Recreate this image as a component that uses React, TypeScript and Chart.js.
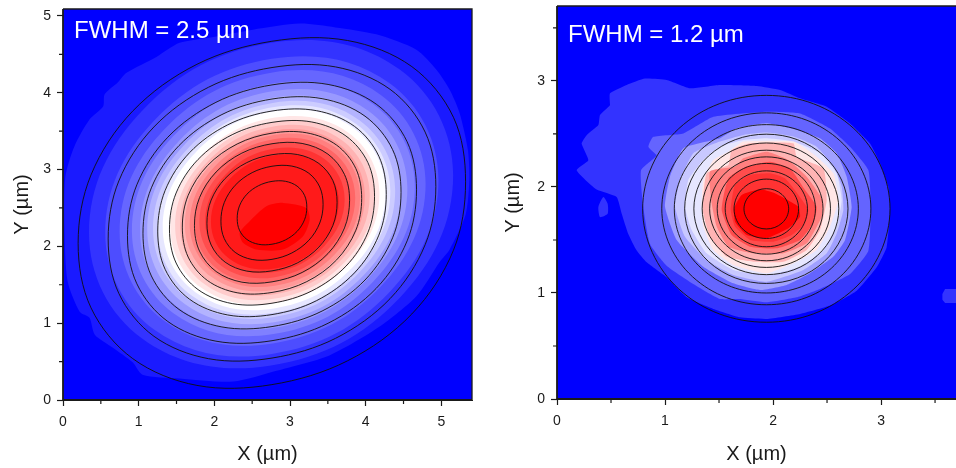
import React, { useEffect, useRef } from "react";
import Chart from "chart.js/auto";

type P = number[][];

const FONT = '"Liberation Sans", Arial, sans-serif';
const TICK_COLOR = "#1a1a1a";

const leftMinorX = [0.5, 1.5, 2.5, 3.5, 4.5];
const leftMinorY = [0.5, 1.5, 2.5, 3.5, 4.5];
const rightMinorX = [0.5, 1.5, 2.5, 3.5];
const rightMinorY = [0.5, 1.5, 2.5, 3.5];

const leftColors = ["#1a1aff", "#3333ff", "#4d4dff", "#6666ff", "#8080ff", "#9999ff", "#b3b3ff", "#ccccff", "#e6e6ff", "#ffffff", "#ffe6e6", "#ffcccc", "#ffb3b3", "#ff9999", "#ff8080", "#ff6666", "#ff4d4d", "#ff3333", "#ff1a1a", "#ff0000"];

const leftBandOuter: P = [[0.03,2.9],[0.15,3.3],[0.35,3.65],[0.53,3.82],[0.55,3.98],[0.72,4.13],[0.84,4.26],[1.24,4.47],[1.54,4.65],[1.95,4.72],[2.51,4.82],[3.13,4.9],[3.6,4.85],[4.14,4.76],[4.67,4.56],[4.935,4.3],[5.11,4.04],[5.24,3.74],[5.35,3.26],[5.37,2.87],[5.32,2.41],[5.11,1.96],[4.98,1.8],[4.67,1.35],[4.185,0.956],[3.52,0.58],[2.82,0.38],[2.25,0.24],[1.54,0.28],[1.05,0.33],[0.92,0.49],[0.66,0.68],[0.42,0.85],[0.35,1.07],[0.22,1.15],[0.06,1.55],[0.02,2.2]];

const leftBands: P[] = [
  [[5.156,2.928],[4.451,4.302],[2.75,4.65],[1.049,3.768],[0.344,2.172],[1.049,0.798],[2.75,0.45],[4.451,1.332]],
  [[4.962,2.866],[4.317,4.123],[2.76,4.441],[1.203,3.635],[0.558,2.174],[1.203,0.917],[2.76,0.599],[4.317,1.405]],
  [[4.792,2.817],[4.2,3.972],[2.77,4.264],[1.34,3.524],[0.748,2.183],[1.34,1.028],[2.77,0.736],[4.2,1.476]],
  [[4.649,2.783],[4.101,3.85],[2.78,4.121],[1.459,3.436],[0.911,2.197],[1.459,1.13],[2.78,0.859],[4.101,1.544]],
  [[4.551,2.757],[4.034,3.766],[2.785,4.021],[1.536,3.374],[1.019,2.203],[1.536,1.194],[2.785,0.939],[4.034,1.586]],
  [[4.467,2.738],[3.976,3.696],[2.79,3.938],[1.604,3.324],[1.113,2.212],[1.604,1.254],[2.79,1.012],[3.976,1.626]],
  [[4.39,2.726],[3.921,3.64],[2.79,3.871],[1.659,3.285],[1.19,2.224],[1.659,1.31],[2.79,1.079],[3.921,1.665]],
  [[4.326,2.716],[3.876,3.593],[2.79,3.815],[1.704,3.253],[1.254,2.234],[1.704,1.357],[2.79,1.135],[3.876,1.697]],
  [[4.262,2.706],[3.831,3.546],[2.79,3.759],[1.749,3.22],[1.318,2.244],[1.749,1.404],[2.79,1.191],[3.831,1.73]],
  [[4.182,2.687],[3.777,3.477],[2.8,3.676],[1.823,3.17],[1.418,2.253],[1.823,1.463],[2.8,1.264],[3.777,1.77]],
  [[4.118,2.677],[3.732,3.43],[2.8,3.62],[1.868,3.137],[1.482,2.263],[1.868,1.51],[2.8,1.32],[3.732,1.803]],
  [[4.054,2.667],[3.687,3.383],[2.8,3.564],[1.913,3.105],[1.546,2.273],[1.913,1.557],[2.8,1.376],[3.687,1.835]],
  [[3.99,2.657],[3.641,3.337],[2.8,3.509],[1.959,3.073],[1.61,2.283],[1.959,1.603],[2.8,1.431],[3.641,1.867]],
  [[3.926,2.647],[3.596,3.29],[2.8,3.453],[2.004,3.04],[1.674,2.293],[2.004,1.65],[2.8,1.487],[3.596,1.9]],
  [[3.862,2.637],[3.551,3.243],[2.8,3.397],[2.049,3.008],[1.738,2.303],[2.049,1.697],[2.8,1.543],[3.551,1.932]],
  [[3.798,2.627],[3.506,3.197],[2.8,3.341],[2.094,2.975],[1.802,2.313],[2.094,1.743],[2.8,1.599],[3.506,1.965]],
  [[3.722,2.615],[3.452,3.141],[2.8,3.274],[2.148,2.937],[1.878,2.325],[2.148,1.799],[2.8,1.666],[3.452,2.003]],
  [[3.645,2.583],[3.397,3.065],[2.8,3.187],[2.203,2.878],[1.955,2.317],[2.203,1.835],[2.8,1.713],[3.397,2.022]],
  [[2.335,2.176],[2.467,2.327],[2.688,2.522],[2.907,2.566],[3.216,2.501],[3.26,2.349],[3.172,2.131],[2.907,1.958],[2.556,1.958],[2.379,2.046]],
];

const leftContours: P[] = [
  [[5.32,2.84],[5.16,3.68],[4.61,4.34],[3.76,4.68],[2.76,4.67],[1.77,4.37],[0.92,3.76],[0.37,2.93],[0.2,2.04],[0.37,1.2],[0.92,0.54],[1.77,0.19],[2.76,0.2],[3.76,0.51],[4.61,1.12],[5.16,1.95]],
  [[4.927,2.777],[4.786,3.487],[4.323,4.044],[3.602,4.336],[2.762,4.328],[1.922,4.071],[1.201,3.554],[0.738,2.852],[0.597,2.097],[0.738,1.387],[1.201,0.83],[1.922,0.538],[2.762,0.546],[3.602,0.803],[4.323,1.32],[4.786,2.022]],
  [[4.672,2.736],[4.548,3.361],[4.139,3.852],[3.503,4.108],[2.762,4.102],[2.021,3.875],[1.385,3.421],[0.976,2.802],[0.852,2.138],[0.976,1.513],[1.385,1.022],[2.021,0.766],[2.762,0.772],[3.503,0.999],[4.139,1.453],[4.548,2.072]],
  [[4.467,2.703],[4.356,3.259],[3.991,3.695],[3.424,3.923],[2.762,3.918],[2.1,3.716],[1.533,3.312],[1.168,2.762],[1.057,2.171],[1.168,1.615],[1.533,1.179],[2.1,0.951],[2.762,0.956],[3.424,1.158],[3.991,1.562],[4.356,2.112]],
  [[4.272,2.675],[4.174,3.173],[3.851,3.563],[3.348,3.767],[2.762,3.762],[2.176,3.582],[1.673,3.22],[1.35,2.728],[1.252,2.199],[1.35,1.701],[1.673,1.311],[2.176,1.107],[2.762,1.112],[3.348,1.292],[3.851,1.654],[4.174,2.146]],
  [[4.117,2.649],[4.029,3.091],[3.739,3.437],[3.288,3.619],[2.762,3.614],[2.236,3.454],[1.785,3.132],[1.495,2.695],[1.407,2.225],[1.495,1.783],[1.785,1.437],[2.236,1.255],[2.762,1.26],[3.288,1.42],[3.739,1.742],[4.029,2.179]],
  [[3.947,2.623],[3.87,3.013],[3.616,3.318],[3.222,3.478],[2.762,3.474],[2.302,3.333],[1.908,3.05],[1.654,2.664],[1.577,2.251],[1.654,1.861],[1.908,1.556],[2.302,1.396],[2.762,1.4],[3.222,1.541],[3.616,1.824],[3.87,2.21]],
  [[3.787,2.599],[3.72,2.936],[3.501,3.201],[3.16,3.34],[2.762,3.336],[2.364,3.214],[2.023,2.968],[1.804,2.634],[1.737,2.275],[1.804,1.938],[2.023,1.673],[2.364,1.534],[2.762,1.538],[3.16,1.66],[3.501,1.906],[3.72,2.24]],
  [[3.622,2.573],[3.566,2.857],[3.382,3.079],[3.096,3.196],[2.762,3.193],[2.428,3.09],[2.142,2.883],[1.958,2.603],[1.902,2.301],[1.958,2.017],[2.142,1.795],[2.428,1.678],[2.762,1.681],[3.096,1.784],[3.382,1.991],[3.566,2.271]],
  [[3.437,2.546],[3.393,2.773],[3.249,2.952],[3.024,3.045],[2.762,3.043],[2.5,2.96],[2.275,2.795],[2.131,2.57],[2.087,2.328],[2.131,2.101],[2.275,1.922],[2.5,1.829],[2.762,1.831],[3.024,1.914],[3.249,2.079],[3.393,2.304]],
  [[3.222,2.51],[3.192,2.664],[3.094,2.784],[2.94,2.847],[2.762,2.846],[2.584,2.79],[2.43,2.679],[2.332,2.527],[2.302,2.364],[2.332,2.21],[2.43,2.09],[2.584,2.027],[2.762,2.028],[2.94,2.084],[3.094,2.195],[3.192,2.347]],
];

const rightColors = ["#3333ff", "#6464ff", "#a0a0ff", "#c8c8ff", "#e6e6ff", "#ffe6e6", "#ffb4b4", "#ff8080", "#ff4d4d", "#ff3333", "#ff0000"];

const rightBands: P[] = [
  [[0.491,2.883],[0.645,2.962],[0.815,3.022],[1.015,3.009],[1.231,2.931],[1.509,2.962],[1.849,2.953],[2.065,2.915],[2.25,2.836],[2.497,2.757],[2.713,2.599],[2.898,2.41],[2.991,2.221],[3.068,2.0],[3.083,1.795],[3.052,1.431],[2.96,1.242],[2.775,1.022],[2.528,0.881],[2.25,0.802],[1.941,0.755],[1.694,0.77],[1.448,0.849],[1.201,0.959],[1.015,1.148],[0.83,1.289],[0.738,1.4],[0.66,1.557],[0.599,1.748],[0.552,1.905],[0.367,1.975],[0.182,2.158],[0.29,2.252],[0.228,2.41],[0.275,2.489],[0.383,2.584],[0.398,2.678],[0.491,2.773]],
  [[0.846,2.379],[0.892,2.473],[1.17,2.505],[1.448,2.662],[1.941,2.71],[2.25,2.694],[2.528,2.552],[2.713,2.379],[2.883,2.158],[2.904,1.811],[2.883,1.399],[2.713,1.179],[2.435,1.038],[2.219,0.959],[1.941,0.912],[1.694,0.943],[1.509,0.943],[1.262,1.085],[1.015,1.258],[0.861,1.462],[0.799,1.811],[0.778,2.158],[0.923,2.3]],
  [[1.046,2.097],[1.17,2.365],[1.509,2.459],[1.664,2.553],[1.941,2.6],[2.219,2.538],[2.435,2.459],[2.589,2.318],[2.682,2.097],[2.728,1.814],[2.667,1.5],[2.559,1.343],[2.343,1.186],[2.127,1.076],[1.88,1.028],[1.633,1.091],[1.355,1.248],[1.108,1.5],[1.0,1.814]],
  [[1.093,1.814],[1.139,2.066],[1.262,2.318],[1.509,2.428],[1.725,2.491],[1.941,2.513],[2.188,2.475],[2.404,2.38],[2.559,2.192],[2.636,2.003],[2.651,1.783],[2.59,1.563],[2.497,1.374],[2.281,1.217],[1.941,1.107],[1.633,1.17],[1.386,1.311],[1.185,1.531]],
  [[1.185,1.814],[1.216,2.066],[1.355,2.255],[1.509,2.381],[1.725,2.443],[1.941,2.459],[2.188,2.428],[2.435,2.318],[2.589,2.129],[2.636,1.877],[2.59,1.626],[2.466,1.406],[2.25,1.248],[1.941,1.17],[1.633,1.217],[1.386,1.374],[1.247,1.594]],
  [[1.339,1.814],[1.355,2.066],[1.447,2.255],[1.586,2.333],[1.725,2.428],[2.188,2.428],[2.404,2.286],[2.559,2.129],[2.605,1.877],[2.528,1.626],[2.404,1.406],[2.188,1.28],[1.941,1.185],[1.633,1.264],[1.447,1.406],[1.355,1.626]],
  [[1.349,1.783],[1.386,2.129],[1.586,2.208],[1.617,2.349],[1.787,2.412],[2.188,2.412],[2.219,2.286],[2.466,2.176],[2.497,1.877],[2.435,1.594],[2.312,1.406],[2.096,1.295],[1.818,1.295],[1.571,1.343],[1.417,1.531]],
  [[1.432,1.846],[1.417,2.145],[1.648,2.192],[1.725,2.27],[1.941,2.333],[2.142,2.255],[2.312,2.097],[2.46,1.877],[2.45,1.72],[2.312,1.468],[2.096,1.374],[1.818,1.374],[1.586,1.437],[1.478,1.626]],
  [[1.525,1.783],[1.586,2.082],[1.756,2.192],[1.972,2.239],[2.157,2.176],[2.296,1.972],[2.404,1.814],[2.373,1.657],[2.25,1.5],[2.034,1.421],[1.787,1.437],[1.617,1.547]],
  [[1.608,1.783],[1.648,2.019],[1.787,2.113],[1.972,2.129],[2.111,2.082],[2.235,1.925],[2.327,1.783],[2.281,1.641],[2.173,1.547],[2.003,1.484],[1.787,1.5],[1.648,1.626]],
  [[1.639,1.799],[1.71,1.925],[1.88,1.978],[2.018,1.94],[2.234,1.814],[2.25,1.72],[2.142,1.61],[1.941,1.516],[1.756,1.547],[1.648,1.673]],
];

const rightIsland: P = [[0.429,1.905],[0.469,1.842],[0.469,1.748],[0.398,1.716],[0.383,1.811]];
const rightEdgeBlob: P = [[3.694,1.038],[3.593,1.038],[3.568,0.99],[3.568,0.937],[3.593,0.906],[3.694,0.906]];

const rightContours: P[] = [
  [[3.083,1.794],[2.748,2.551],[1.938,2.864],[1.128,2.551],[0.793,1.794],[1.128,1.037],[1.938,0.724],[2.748,1.037]],
  [[2.906,1.794],[2.622,2.434],[1.938,2.699],[1.254,2.434],[0.97,1.794],[1.254,1.154],[1.938,0.889],[2.622,1.154]],
  [[2.79,1.794],[2.54,2.355],[1.938,2.588],[1.336,2.355],[1.086,1.794],[1.336,1.233],[1.938,1.0],[2.54,1.233]],
  [[2.694,1.794],[2.473,2.292],[1.938,2.498],[1.403,2.292],[1.182,1.794],[1.403,1.296],[1.938,1.09],[2.473,1.296]],
  [[2.609,1.794],[2.412,2.233],[1.938,2.415],[1.464,2.233],[1.267,1.794],[1.464,1.355],[1.938,1.173],[2.412,1.355]],
  [[2.532,1.794],[2.358,2.185],[1.938,2.347],[1.518,2.185],[1.344,1.794],[1.518,1.403],[1.938,1.241],[2.358,1.403]],
  [[2.463,1.794],[2.309,2.14],[1.938,2.284],[1.567,2.14],[1.413,1.794],[1.567,1.448],[1.938,1.304],[2.309,1.448]],
  [[2.393,1.794],[2.26,2.097],[1.938,2.222],[1.616,2.097],[1.483,1.794],[1.616,1.491],[1.938,1.366],[2.26,1.491]],
  [[2.319,1.794],[2.207,2.047],[1.938,2.152],[1.669,2.047],[1.557,1.794],[1.669,1.541],[1.938,1.436],[2.207,1.541]],
  [[2.237,1.794],[2.149,1.992],[1.938,2.074],[1.727,1.992],[1.639,1.794],[1.727,1.596],[1.938,1.514],[2.149,1.596]],
  [[2.145,1.794],[2.084,1.928],[1.938,1.984],[1.792,1.928],[1.731,1.794],[1.792,1.66],[1.938,1.604],[2.084,1.66]],
];

function loop(pts: P) {
  const n = pts.length;
  const seq = [pts[n - 1], ...pts, pts[0], pts[1]];
  return seq.map(([x, y]) => ({ x, y }));
}

function bandSet(pts: P, color: string, tension: number) {
  return {
    data: loop(pts), showLine: true, pointRadius: 0, borderWidth: 0,
    backgroundColor: color, borderColor: color, fill: "shape", tension, capBezierPoints: false,
  };
}

function contourSet(pts: P, tension: number) {
  const n = pts.length;
  return {
    data: loop(pts), showLine: true, pointRadius: 0, borderWidth: 0.9, borderColor: "#101010",
    fill: false, tension, capBezierPoints: false,
    segment: {
      borderColor: (c: any) => (c.p0DataIndex === 0 || c.p0DataIndex === n + 1 ? "rgba(0,0,0,0)" : undefined),
    },
  };
}

interface Panel {
  label: string; labelBase: number; labelX: number;
  xMax: number; yMax: number; axisW: number; axisH: number; top: number; right: number;
  minorX: number[]; minorY: number[]; titlePadY: number; closeRight: boolean;
}

function makePlugin(p: Panel) {
  return {
    id: "panelDecor",
    beforeDatasetsDraw(chart: any) {
      const { ctx, chartArea: a } = chart;
      ctx.save();
      ctx.fillStyle = "#0000ff";
      ctx.fillRect(a.left, a.top, a.right - a.left, a.bottom - a.top);
      ctx.restore();
    },
    afterDatasetsDraw(chart: any) {
      const { ctx, chartArea: a, scales } = chart;
      ctx.save();
      ctx.strokeStyle = TICK_COLOR;
      ctx.lineWidth = 1.3;
      ctx.beginPath();
      ctx.moveTo(a.left, a.top); ctx.lineTo(a.right, a.top);
      if (p.closeRight) { ctx.lineTo(a.right, a.bottom); }
      ctx.stroke();
      ctx.lineWidth = 1.8;
      ctx.beginPath();
      ctx.moveTo(a.left, a.top); ctx.lineTo(a.left, a.bottom); ctx.lineTo(a.right, a.bottom);
      ctx.stroke();
      ctx.lineWidth = 1.2;
      ctx.beginPath();
      p.minorX.forEach((v) => { const x = scales.x.getPixelForValue(v); ctx.moveTo(x, a.bottom); ctx.lineTo(x, a.bottom + 4); });
      p.minorY.forEach((v) => { const y = scales.y.getPixelForValue(v); ctx.moveTo(a.left, y); ctx.lineTo(a.left - 4, y); });
      ctx.stroke();
      ctx.fillStyle = "#ffffff";
      ctx.font = `24px ${FONT}`;
      ctx.textAlign = "left";
      ctx.textBaseline = "alphabetic";
      ctx.fillText(p.label, a.left + p.labelX, p.labelBase);
      ctx.restore();
    },
  };
}

function axis(title: string, max: number, fit: (s: any) => void, padding: any, tickPad: number) {
  return {
    type: "linear", min: 0, max,
    afterFit: (s: any) => {
      fit(s);
      s.paddingTop = 0; s.paddingBottom = 0; s.paddingLeft = 0; s.paddingRight = 0;
    },
    grid: { display: true, drawOnChartArea: false, drawTicks: true, tickLength: 6, tickWidth: 1.2, tickColor: TICK_COLOR },
    border: { display: true, color: TICK_COLOR, width: 1 },
    ticks: { stepSize: 1, includeBounds: false, maxRotation: 0, autoSkip: false, padding: tickPad, color: TICK_COLOR, font: { family: FONT, size: 14 } },
    title: { display: true, text: title, color: TICK_COLOR, padding, font: { family: FONT, size: 20 } },
  };
}

function build(canvas: HTMLCanvasElement, datasets: any[], p: Panel) {
  return new Chart(canvas, {
    type: "scatter",
    data: { datasets },
    options: {
      responsive: false, animation: false, events: [],
      layout: { padding: { top: p.top, right: p.right, left: 0, bottom: 0 } },
      plugins: { legend: { display: false }, tooltip: { enabled: false } },
      scales: {
        x: axis("X (\u00b5m)", p.xMax, (s: any) => { s.height = p.axisH; }, { top: 2, bottom: 2 }, 8),
        y: axis("Y (\u00b5m)", p.yMax, (s: any) => { s.width = p.axisW; }, { top: p.titlePadY, bottom: 0 }, 6),
      },
    },
    plugins: [makePlugin(p)],
  } as any);
}

export default function App() {
  const leftRef = useRef<HTMLCanvasElement>(null);
  const rightRef = useRef<HTMLCanvasElement>(null);
  useEffect(() => {
    const leftSets = [
      ...leftContours.map((c) => contourSet(c, 0.343)),
      ...leftBands.map((b, i) => bandSet(b, leftColors[i + 1], i === leftBands.length - 1 ? 0.25 : 0.39)).reverse(),
      bandSet(leftBandOuter, leftColors[0], 0.25),
    ];
    const rightSets = [
      ...rightContours.map((c) => contourSet(c, 0.375)),
      ...rightBands.map((b, i) => bandSet(b, rightColors[i], 0.15)).reverse(),
      bandSet(rightIsland, rightColors[0], 0.2),
      bandSet(rightEdgeBlob, rightColors[0], 0),
    ];
    const a = build(leftRef.current!, leftSets, {
      label: "FWHM = 2.5 \u00b5m", labelX: 11, labelBase: 38, xMax: 5.405, yMax: 5.09, axisW: 63, axisH: 68, top: 9, right: 6,
      minorX: leftMinorX, minorY: leftMinorY, titlePadY: 10, closeRight: true,
    });
    const b = build(rightRef.current!, rightSets, {
      label: "FWHM = 1.2 \u00b5m", labelX: 11, labelBase: 42, xMax: 3.694, yMax: 3.707, axisW: 79, axisH: 69, top: 6, right: 0,
      minorX: rightMinorX, minorY: rightMinorY, titlePadY: 23, closeRight: false,
    });
    return () => { a.destroy(); b.destroy(); };
  }, []);
  return (
    <div style={{ position: "fixed", left: 0, top: 0, width: 956, height: 468, background: "#fff", overflow: "hidden" }}>
      <canvas ref={leftRef} width={478} height={468} style={{ position: "absolute", left: 0, top: 0, display: "block" }} />
      <canvas ref={rightRef} width={478} height={468} style={{ position: "absolute", left: 478, top: 0, display: "block" }} />
    </div>
  );
}
